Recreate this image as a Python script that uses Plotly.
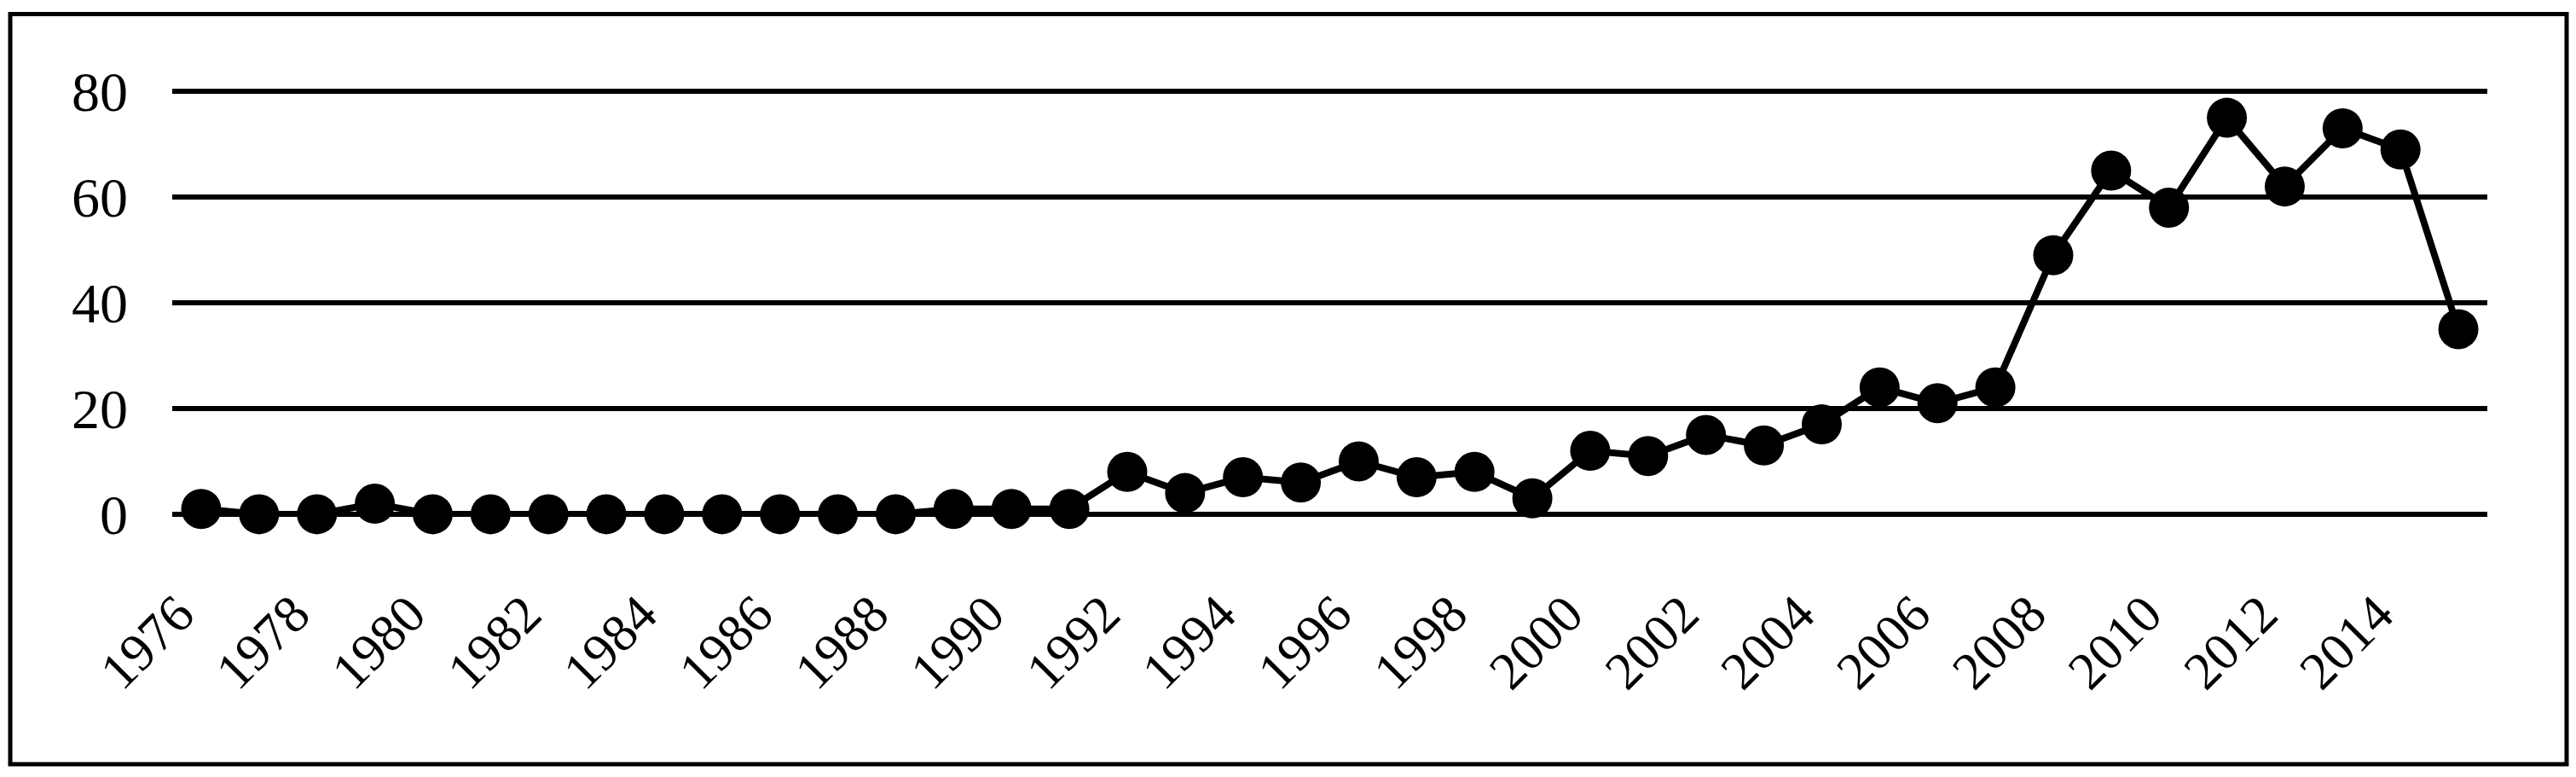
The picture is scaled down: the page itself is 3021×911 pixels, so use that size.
import plotly.graph_objects as go

years = [str(y) for y in range(1976, 2016)]
counts = [1, 0, 0, 2, 0, 0, 0, 0, 0, 0, 0, 0, 0, 1, 1, 1, 8, 4, 7, 6,
          10, 7, 8, 3, 12, 11, 15, 13, 17, 24, 21, 24, 49, 65, 58, 75, 62, 73, 69, 35]
tick_years = years[::2]
y_ticks = [0, 20, 40, 60, 80]

# page has an 8px body margin, so the figure is a bit smaller than the window
W, H = 3005, 895
L, R, T, B = 194, 96, 96, 297
pw, ph = W - L - R, H - T - B

fig = go.Figure()
fig.add_trace(go.Scatter(
    x=years, y=counts, mode="lines+markers",
    line=dict(color="black", width=8),
    marker=dict(color="black", size=47),
    cliponaxis=False, showlegend=False,
))

fig.update_layout(
    width=W, height=H,
    margin=dict(l=L, r=R, t=T, b=B),
    paper_bgcolor="white", plot_bgcolor="white",
    font=dict(family="Liberation Serif", color="black"),
)

# outer frame round the whole chart
fig.add_shape(type="rect", xref="paper", yref="paper",
              x0=(4 - L) / pw, x1=(3002 - L) / pw,
              y0=-(888 - (H - B)) / ph, y1=((H - B) - 8.5) / ph,
              line=dict(color="black", width=5))

fig.update_xaxes(
    type="category", range=[-0.5, 39.5],
    tickvals=tick_years, ticktext=tick_years, tickangle=-45,
    showgrid=False, showline=False, zeroline=False, ticks="",
    ticklabelstandoff=64, ticklabelshift=-27,
    tickfont=dict(family="Liberation Serif", size=62, color="black"),
)
fig.update_yaxes(
    range=[-0.5, 80.5], tickvals=y_ticks,
    showgrid=True, gridcolor="black", gridwidth=6,
    zeroline=True, zerolinecolor="black", zerolinewidth=6,
    showline=False, ticks="", ticklabelstandoff=51,
    tickfont=dict(family="Liberation Serif", size=66, color="black"),
)

fig.write_html("out.html")
